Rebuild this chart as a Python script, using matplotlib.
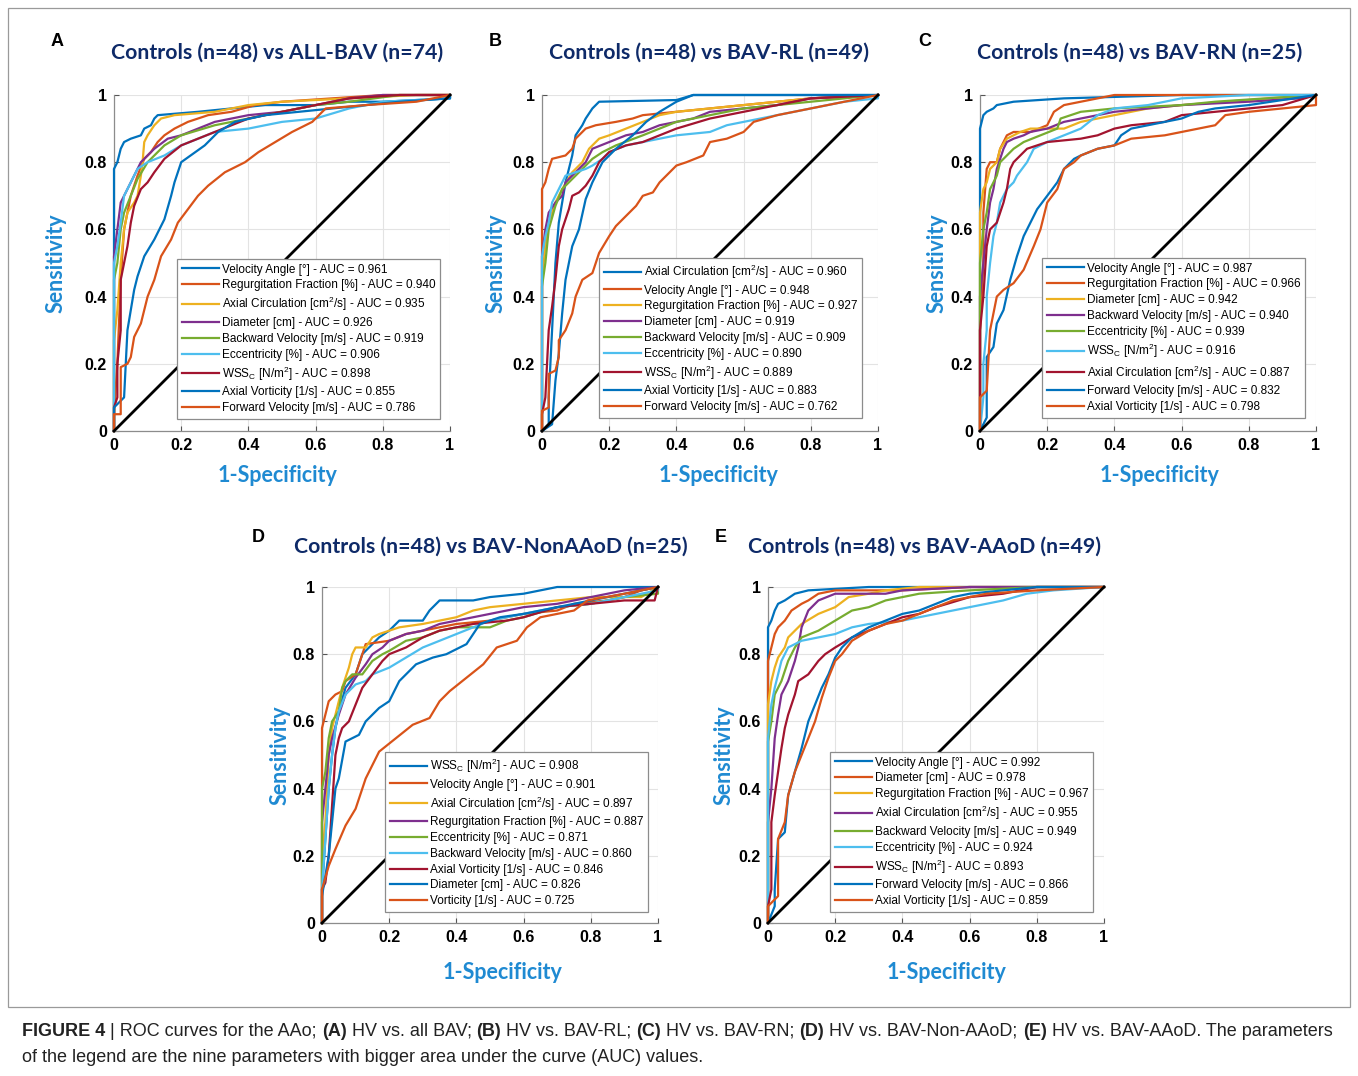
import matplotlib
matplotlib.use("Agg")
import matplotlib.pyplot as plt
from matplotlib.patches import Rectangle
from matplotlib.lines import Line2D

W, H = 1358, 1076
plt.rcParams["font.family"] = ["Liberation Sans", "DejaVu Sans"]
plt.rcParams["mathtext.default"] = "regular"

MATLAB = ["#0072BD", "#D95319", "#EDB120", "#7E2F8E", "#77AC30",
          "#4DBEEE", "#A2142F", "#0072BD", "#D95319"]
NAVY = "#0E2A68"
LBLUE = "#1F8AD2"
TICKS = [0, 0.2, 0.4, 0.6, 0.8, 1]

# ---------------- panel A ----------------
A_TITLE = "Controls (n=48) vs ALL-BAV (n=74)"
A_PARAMS = ["Velocity Angle [°]", "Regurgitation Fraction [%]", "Axial Circulation [cm$^2$/s]",
            "Diameter [cm]", "Backward Velocity [m/s]", "Eccentricity [%]",
            "WSS$_C$ [N/m$^2$]", "Axial Vorticity [1/s]", "Forward Velocity [m/s]"]
A_AUC = [0.961, 0.940, 0.935, 0.926, 0.919, 0.906, 0.898, 0.855, 0.786]
A_ROC = [
    [(0,0),(0,0.06),(0,0.78),(0.01,0.80),(0.02,0.84),(0.03,0.86),(0.05,0.87),(0.08,0.88),(0.09,0.90),(0.11,0.91),(0.12,0.93),(0.13,0.94),(0.25,0.95),(0.35,0.96),(0.45,0.97),(0.6,0.97),(0.7,0.98),(0.8,0.98),(1,0.99),(1,1)],
    [(0,0),(0,0.05),(0.01,0.2),(0.02,0.45),(0.03,0.6),(0.05,0.7),(0.07,0.76),(0.09,0.81),(0.11,0.83),(0.13,0.86),(0.15,0.88),(0.18,0.9),(0.22,0.92),(0.28,0.94),(0.35,0.95),(0.42,0.97),(0.5,0.98),(0.65,0.99),(0.8,1.0),(1,1)],
    [(0,0),(0,0.27),(0.01,0.36),(0.02,0.5),(0.03,0.6),(0.04,0.65),(0.06,0.68),(0.07,0.7),(0.08,0.76),(0.085,0.8),(0.09,0.86),(0.1,0.88),(0.12,0.91),(0.14,0.93),(0.18,0.94),(0.3,0.95),(0.4,0.97),(0.5,0.98),(0.7,0.99),(0.9,1.0),(1,1)],
    [(0,0),(0,0.52),(0.01,0.6),(0.02,0.68),(0.04,0.72),(0.06,0.76),(0.08,0.8),(0.12,0.84),(0.16,0.87),(0.2,0.88),(0.25,0.9),(0.3,0.92),(0.4,0.94),(0.5,0.95),(0.6,0.97),(0.7,0.99),(0.8,1.0),(1,1)],
    [(0,0),(0,0.45),(0.01,0.5),(0.02,0.6),(0.03,0.65),(0.05,0.7),(0.07,0.75),(0.1,0.8),(0.15,0.85),(0.2,0.88),(0.3,0.91),(0.4,0.93),(0.5,0.95),(0.6,0.97),(0.7,0.98),(0.85,1.0),(1,1)],
    [(0,0),(0,0.07),(0,0.5),(0.01,0.55),(0.02,0.62),(0.03,0.7),(0.05,0.74),(0.07,0.78),(0.1,0.8),(0.15,0.82),(0.2,0.85),(0.25,0.87),(0.3,0.89),(0.4,0.9),(0.5,0.92),(0.6,0.93),(0.7,0.96),(0.8,0.98),(1,0.99),(1,1)],
    [(0,0),(0,0.07),(0.01,0.1),(0.01,0.2),(0.02,0.3),(0.02,0.45),(0.03,0.5),(0.04,0.55),(0.05,0.62),(0.06,0.67),(0.08,0.72),(0.1,0.74),(0.12,0.77),(0.15,0.81),(0.2,0.85),(0.25,0.87),(0.3,0.89),(0.4,0.93),(0.5,0.95),(0.6,0.97),(0.7,0.99),(0.85,1.0),(1,1)],
    [(0,0),(0,0.07),(0.03,0.1),(0.04,0.3),(0.05,0.36),(0.06,0.42),(0.07,0.46),(0.09,0.52),(0.12,0.57),(0.15,0.63),(0.17,0.7),(0.18,0.74),(0.2,0.8),(0.27,0.85),(0.31,0.89),(0.36,0.92),(0.45,0.94),(0.55,0.95),(0.65,0.96),(0.75,0.97),(0.85,0.98),(1,0.99),(1,1)],
    [(0,0),(0,0.05),(0.02,0.05),(0.02,0.19),(0.04,0.2),(0.05,0.22),(0.06,0.28),(0.08,0.32),(0.1,0.4),(0.12,0.45),(0.14,0.52),(0.17,0.57),(0.19,0.62),(0.22,0.66),(0.25,0.7),(0.28,0.73),(0.33,0.77),(0.39,0.8),(0.43,0.83),(0.48,0.86),(0.53,0.89),(0.59,0.92),(0.63,0.96),(0.75,0.97),(0.9,0.98),(1,1)],
]

# ---------------- panel B ----------------
B_TITLE = "Controls (n=48) vs BAV-RL (n=49)"
B_PARAMS = ["Axial Circulation [cm$^2$/s]", "Velocity Angle [°]", "Regurgitation Fraction [%]",
            "Diameter [cm]", "Backward Velocity [m/s]", "Eccentricity [%]",
            "WSS$_C$ [N/m$^2$]", "Axial Vorticity [1/s]", "Forward Velocity [m/s]"]
B_AUC = [0.960, 0.948, 0.927, 0.919, 0.909, 0.890, 0.889, 0.883, 0.762]
B_ROC = [
    [(0,0),(0.02,0.02),(0.02,0.1),(0.03,0.3),(0.04,0.5),(0.05,0.62),(0.06,0.68),(0.07,0.74),(0.09,0.82),(0.1,0.88),(0.12,0.91),(0.13,0.93),(0.15,0.96),(0.17,0.98),(0.4,0.985),(0.45,1.0),(1,1)],
    [(0,0),(0,0.72),(0.01,0.74),(0.02,0.78),(0.03,0.81),(0.07,0.82),(0.09,0.84),(0.1,0.87),(0.13,0.9),(0.16,0.91),(0.22,0.92),(0.27,0.93),(0.3,0.94),(0.4,0.95),(0.5,0.96),(0.6,0.97),(0.7,0.98),(0.8,0.99),(1,1)],
    [(0,0),(0,0.45),(0.01,0.55),(0.02,0.62),(0.04,0.68),(0.06,0.72),(0.09,0.77),(0.12,0.8),(0.14,0.84),(0.17,0.87),(0.2,0.88),(0.25,0.9),(0.3,0.92),(0.35,0.94),(0.4,0.95),(0.5,0.96),(0.6,0.97),(0.7,0.98),(0.8,0.99),(1,1)],
    [(0,0),(0,0.52),(0.01,0.6),(0.02,0.65),(0.04,0.68),(0.06,0.7),(0.07,0.74),(0.1,0.77),(0.13,0.8),(0.15,0.84),(0.2,0.86),(0.25,0.88),(0.3,0.89),(0.35,0.91),(0.4,0.92),(0.45,0.93),(0.5,0.95),(0.6,0.96),(0.7,0.97),(0.8,0.99),(1,1)],
    [(0,0),(0,0.43),(0.01,0.5),(0.02,0.6),(0.04,0.67),(0.06,0.72),(0.09,0.75),(0.12,0.78),(0.15,0.81),(0.18,0.83),(0.22,0.85),(0.3,0.88),(0.35,0.9),(0.4,0.92),(0.5,0.94),(0.6,0.96),(0.7,0.97),(0.8,0.98),(0.9,0.99),(1,1)],
    [(0,0),(0,0.1),(0,0.52),(0.01,0.58),(0.02,0.62),(0.03,0.68),(0.05,0.72),(0.07,0.76),(0.1,0.77),(0.13,0.78),(0.15,0.79),(0.18,0.81),(0.2,0.83),(0.25,0.85),(0.3,0.86),(0.4,0.88),(0.5,0.89),(0.55,0.91),(0.6,0.92),(0.7,0.94),(0.8,0.96),(0.9,0.98),(1,0.99),(1,1)],
    [(0,0),(0,0.05),(0.01,0.1),(0.02,0.3),(0.03,0.37),(0.04,0.45),(0.05,0.55),(0.06,0.6),(0.08,0.66),(0.09,0.7),(0.11,0.71),(0.13,0.73),(0.15,0.76),(0.17,0.8),(0.2,0.83),(0.25,0.85),(0.3,0.86),(0.35,0.88),(0.4,0.9),(0.5,0.93),(0.6,0.95),(0.7,0.97),(0.8,0.99),(1,1)],
    [(0,0),(0.03,0.02),(0.04,0.15),(0.05,0.23),(0.06,0.35),(0.07,0.45),(0.09,0.55),(0.11,0.6),(0.13,0.69),(0.15,0.74),(0.18,0.8),(0.22,0.84),(0.27,0.88),(0.31,0.92),(0.35,0.95),(0.4,0.98),(0.45,1.0),(1,1)],
    [(0,0),(0,0.06),(0.02,0.07),(0.02,0.17),(0.04,0.18),(0.05,0.22),(0.05,0.27),(0.07,0.3),(0.09,0.35),(0.1,0.4),(0.12,0.45),(0.15,0.47),(0.17,0.53),(0.2,0.58),(0.22,0.61),(0.25,0.64),(0.28,0.67),(0.3,0.7),(0.33,0.71),(0.35,0.74),(0.38,0.77),(0.4,0.79),(0.43,0.8),(0.48,0.82),(0.5,0.86),(0.55,0.87),(0.6,0.89),(0.63,0.92),(0.7,0.94),(0.8,0.96),(0.9,0.98),(1,1)],
]

# ---------------- panel C ----------------
C_TITLE = "Controls (n=48) vs BAV-RN (n=25)"
C_PARAMS = ["Velocity Angle [°]", "Regurgitation Fraction [%]", "Diameter [cm]",
            "Backward Velocity [m/s]", "Eccentricity [%]", "WSS$_C$ [N/m$^2$]",
            "Axial Circulation [cm$^2$/s]", "Forward Velocity [m/s]", "Axial Vorticity [1/s]"]
C_AUC = [0.987, 0.966, 0.942, 0.940, 0.939, 0.916, 0.887, 0.832, 0.798]
C_ROC = [
    [(0,0),(0,0.9),(0.01,0.94),(0.02,0.95),(0.04,0.96),(0.05,0.97),(0.1,0.98),(0.25,0.99),(0.6,1.0),(1,1)],
    [(0,0),(0,0.3),(0.01,0.5),(0.01,0.65),(0.02,0.78),(0.03,0.8),(0.05,0.8),(0.06,0.84),(0.08,0.88),(0.1,0.89),(0.15,0.89),(0.2,0.91),(0.22,0.95),(0.25,0.97),(0.3,0.98),(0.4,1.0),(1,1)],
    [(0,0),(0,0.5),(0,0.65),(0.01,0.72),(0.02,0.74),(0.03,0.78),(0.05,0.8),(0.06,0.84),(0.08,0.87),(0.1,0.88),(0.12,0.89),(0.15,0.9),(0.25,0.9),(0.3,0.92),(0.35,0.93),(0.4,0.94),(0.5,0.96),(0.6,0.97),(0.73,0.98),(1,1)],
    [(0,0),(0,0.4),(0.01,0.5),(0.02,0.6),(0.03,0.68),(0.04,0.72),(0.05,0.78),(0.07,0.84),(0.08,0.86),(0.1,0.87),(0.13,0.88),(0.15,0.89),(0.2,0.9),(0.25,0.92),(0.3,0.93),(0.4,0.95),(0.5,0.96),(0.6,0.97),(0.8,0.98),(0.95,0.99),(1,1)],
    [(0,0),(0,0.32),(0,0.5),(0.01,0.6),(0.02,0.65),(0.03,0.72),(0.05,0.76),(0.06,0.8),(0.08,0.82),(0.1,0.84),(0.13,0.86),(0.18,0.88),(0.23,0.9),(0.24,0.93),(0.3,0.95),(0.4,0.96),(0.6,0.97),(0.7,0.98),(1,1)],
    [(0,0),(0.01,0.1),(0.01,0.2),(0.02,0.3),(0.02,0.4),(0.03,0.5),(0.04,0.58),(0.05,0.62),(0.06,0.68),(0.08,0.72),(0.1,0.74),(0.11,0.76),(0.14,0.8),(0.16,0.84),(0.2,0.86),(0.25,0.88),(0.3,0.9),(0.35,0.94),(0.4,0.96),(0.5,0.97),(0.6,0.99),(0.8,1.0),(1,1)],
    [(0,0),(0,0.1),(0,0.3),(0.01,0.4),(0.02,0.55),(0.03,0.6),(0.05,0.62),(0.07,0.68),(0.08,0.72),(0.09,0.78),(0.1,0.8),(0.12,0.82),(0.14,0.84),(0.17,0.85),(0.2,0.86),(0.3,0.87),(0.35,0.88),(0.4,0.9),(0.45,0.91),(0.55,0.92),(0.6,0.94),(0.7,0.95),(0.8,0.96),(0.9,0.97),(1,1)],
    [(0,0),(0.02,0.04),(0.02,0.22),(0.04,0.25),(0.05,0.32),(0.07,0.36),(0.09,0.45),(0.11,0.52),(0.13,0.58),(0.15,0.62),(0.17,0.66),(0.2,0.7),(0.23,0.74),(0.25,0.78),(0.28,0.81),(0.3,0.82),(0.35,0.84),(0.4,0.85),(0.42,0.88),(0.45,0.9),(0.5,0.91),(0.55,0.92),(0.6,0.93),(0.65,0.95),(0.7,0.96),(0.8,0.97),(1,1)],
    [(0,0),(0,0.1),(0.02,0.12),(0.03,0.3),(0.04,0.35),(0.05,0.4),(0.07,0.42),(0.1,0.44),(0.13,0.48),(0.16,0.55),(0.18,0.6),(0.2,0.68),(0.23,0.72),(0.25,0.78),(0.28,0.8),(0.3,0.82),(0.35,0.84),(0.4,0.85),(0.45,0.87),(0.55,0.88),(0.65,0.9),(0.7,0.91),(0.73,0.94),(0.8,0.95),(0.9,0.96),(1,0.97),(1,1)],
]

# ---------------- panel D ----------------
D_TITLE = "Controls (n=48) vs BAV-NonAAoD (n=25)"
D_PARAMS = ["WSS$_C$ [N/m$^2$]", "Velocity Angle [°]", "Axial Circulation [cm$^2$/s]",
            "Regurgitation Fraction [%]", "Eccentricity [%]", "Backward Velocity [m/s]",
            "Axial Vorticity [1/s]", "Diameter [cm]", "Vorticity [1/s]"]
D_AUC = [0.908, 0.901, 0.897, 0.887, 0.871, 0.860, 0.846, 0.826, 0.725]
D_ROC = [
    [(0,0),(0,0.1),(0.01,0.25),(0.02,0.4),(0.03,0.5),(0.04,0.58),(0.05,0.63),(0.07,0.7),(0.1,0.74),(0.12,0.8),(0.15,0.83),(0.17,0.85),(0.2,0.87),(0.23,0.9),(0.3,0.9),(0.32,0.93),(0.35,0.96),(0.45,0.96),(0.5,0.97),(0.6,0.98),(0.7,1.0),(1,1)],
    [(0,0),(0,0.4),(0,0.58),(0.01,0.62),(0.02,0.66),(0.04,0.68),(0.06,0.69),(0.07,0.72),(0.1,0.74),(0.12,0.8),(0.13,0.83),(0.2,0.84),(0.25,0.86),(0.3,0.87),(0.4,0.89),(0.5,0.9),(0.6,0.92),(0.7,0.93),(0.75,0.95),(0.85,0.96),(0.9,0.97),(0.95,0.99),(1,1)],
    [(0,0),(0,0.2),(0.01,0.3),(0.02,0.5),(0.03,0.58),(0.04,0.62),(0.06,0.7),(0.08,0.76),(0.09,0.8),(0.1,0.82),(0.13,0.82),(0.15,0.85),(0.17,0.86),(0.2,0.87),(0.23,0.88),(0.3,0.89),(0.35,0.9),(0.4,0.91),(0.45,0.93),(0.5,0.94),(0.6,0.95),(0.7,0.96),(0.8,0.97),(0.95,0.97),(1,1)],
    [(0,0),(0,0.3),(0.01,0.4),(0.02,0.5),(0.03,0.55),(0.05,0.62),(0.07,0.68),(0.1,0.73),(0.13,0.77),(0.15,0.8),(0.18,0.82),(0.2,0.84),(0.25,0.86),(0.3,0.87),(0.35,0.89),(0.4,0.9),(0.45,0.91),(0.5,0.92),(0.55,0.93),(0.6,0.94),(0.7,0.95),(0.8,0.97),(0.9,0.99),(1,1)],
    [(0,0),(0,0.25),(0,0.4),(0.01,0.45),(0.02,0.55),(0.03,0.6),(0.05,0.63),(0.06,0.7),(0.07,0.72),(0.09,0.74),(0.12,0.74),(0.15,0.78),(0.18,0.8),(0.2,0.81),(0.25,0.84),(0.3,0.85),(0.35,0.87),(0.4,0.88),(0.5,0.88),(0.55,0.9),(0.6,0.91),(0.7,0.94),(0.8,0.95),(0.9,0.97),(1,0.98),(1,1)],
    [(0,0),(0,0.1),(0.01,0.25),(0.02,0.4),(0.03,0.5),(0.04,0.58),(0.05,0.63),(0.07,0.68),(0.1,0.71),(0.13,0.72),(0.15,0.74),(0.2,0.76),(0.25,0.79),(0.3,0.82),(0.35,0.84),(0.4,0.86),(0.45,0.88),(0.5,0.9),(0.6,0.92),(0.7,0.94),(0.8,0.95),(0.9,0.97),(1,0.99),(1,1)],
    [(0,0),(0,0.1),(0.01,0.12),(0.02,0.2),(0.03,0.35),(0.04,0.5),(0.05,0.55),(0.06,0.58),(0.08,0.6),(0.1,0.65),(0.12,0.7),(0.15,0.74),(0.18,0.78),(0.2,0.8),(0.25,0.82),(0.3,0.85),(0.35,0.87),(0.4,0.88),(0.45,0.89),(0.55,0.9),(0.6,0.91),(0.7,0.94),(0.8,0.95),(0.9,0.96),(0.99,0.96),(1,1)],
    [(0,0),(0,0.08),(0.02,0.2),(0.03,0.3),(0.04,0.4),(0.05,0.43),(0.07,0.54),(0.11,0.56),(0.13,0.6),(0.17,0.64),(0.2,0.66),(0.23,0.72),(0.28,0.77),(0.33,0.79),(0.37,0.8),(0.43,0.83),(0.47,0.89),(0.53,0.91),(0.6,0.92),(0.7,0.94),(0.8,0.96),(0.9,0.98),(1,1)],
    [(0,0),(0,0.1),(0.02,0.17),(0.04,0.22),(0.07,0.29),(0.1,0.34),(0.13,0.43),(0.17,0.51),(0.22,0.55),(0.27,0.59),(0.32,0.61),(0.35,0.66),(0.38,0.69),(0.43,0.73),(0.48,0.77),(0.52,0.82),(0.58,0.84),(0.61,0.88),(0.65,0.91),(0.75,0.93),(0.79,0.96),(0.9,0.98),(1,1)],
]

# ---------------- panel E ----------------
E_TITLE = "Controls (n=48) vs BAV-AAoD (n=49)"
E_PARAMS = ["Velocity Angle [°]", "Diameter [cm]", "Regurgitation Fraction [%]",
            "Axial Circulation [cm$^2$/s]", "Backward Velocity [m/s]", "Eccentricity [%]",
            "WSS$_C$ [N/m$^2$]", "Forward Velocity [m/s]", "Axial Vorticity [1/s]"]
E_AUC = [0.992, 0.978, 0.967, 0.955, 0.949, 0.924, 0.893, 0.866, 0.859]
E_ROC = [
    [(0,0),(0,0.05),(0,0.88),(0.01,0.9),(0.02,0.93),(0.03,0.95),(0.05,0.96),(0.08,0.98),(0.12,0.99),(0.3,1.0),(1,1)],
    [(0,0),(0,0.05),(0,0.78),(0.01,0.82),(0.02,0.86),(0.03,0.88),(0.05,0.9),(0.07,0.93),(0.1,0.95),(0.12,0.96),(0.15,0.98),(0.2,0.99),(0.4,0.99),(0.6,1.0),(1,1)],
    [(0,0),(0,0.55),(0,0.65),(0.01,0.72),(0.02,0.76),(0.03,0.79),(0.05,0.82),(0.06,0.85),(0.08,0.87),(0.1,0.89),(0.15,0.92),(0.2,0.94),(0.24,0.97),(0.3,0.98),(0.35,0.99),(0.45,1.0),(1,1)],
    [(0,0),(0,0.3),(0.01,0.4),(0.02,0.55),(0.03,0.62),(0.04,0.68),(0.06,0.72),(0.08,0.78),(0.09,0.82),(0.1,0.88),(0.12,0.93),(0.15,0.96),(0.2,0.98),(0.35,0.98),(0.4,0.99),(0.6,1.0),(1,1)],
    [(0,0),(0,0.54),(0.01,0.6),(0.02,0.68),(0.04,0.72),(0.06,0.78),(0.08,0.82),(0.1,0.85),(0.15,0.87),(0.2,0.9),(0.25,0.93),(0.3,0.94),(0.35,0.96),(0.45,0.98),(0.6,0.99),(0.8,1.0),(1,1)],
    [(0,0),(0,0.1),(0,0.55),(0.01,0.65),(0.02,0.7),(0.04,0.78),(0.06,0.82),(0.1,0.84),(0.15,0.85),(0.2,0.86),(0.25,0.88),(0.3,0.89),(0.4,0.9),(0.5,0.92),(0.6,0.94),(0.7,0.96),(0.77,0.98),(0.85,0.99),(1,1)],
    [(0,0),(0,0.05),(0.01,0.1),(0.01,0.3),(0.02,0.38),(0.03,0.45),(0.04,0.52),(0.05,0.58),(0.06,0.62),(0.08,0.68),(0.09,0.72),(0.12,0.74),(0.15,0.78),(0.17,0.8),(0.2,0.82),(0.25,0.85),(0.3,0.87),(0.35,0.89),(0.4,0.91),(0.45,0.92),(0.5,0.94),(0.6,0.97),(0.7,0.98),(0.8,1.0),(1,1)],
    [(0,0),(0.02,0.05),(0.02,0.1),(0.03,0.25),(0.05,0.27),(0.06,0.38),(0.08,0.45),(0.1,0.52),(0.12,0.6),(0.14,0.65),(0.16,0.7),(0.18,0.74),(0.2,0.79),(0.22,0.82),(0.25,0.85),(0.3,0.88),(0.35,0.9),(0.4,0.92),(0.45,0.93),(0.5,0.95),(0.55,0.97),(0.6,0.98),(0.7,0.99),(0.8,1.0),(1,1)],
    [(0,0),(0,0.05),(0.03,0.08),(0.03,0.25),(0.05,0.3),(0.06,0.38),(0.08,0.45),(0.1,0.5),(0.12,0.55),(0.14,0.6),(0.16,0.67),(0.18,0.73),(0.2,0.78),(0.22,0.8),(0.25,0.84),(0.3,0.87),(0.35,0.89),(0.4,0.9),(0.45,0.92),(0.5,0.94),(0.55,0.96),(0.6,0.97),(0.65,0.98),(0.8,0.99),(1,1)],
]

CAPTION_1 = [("FIGURE 4", "bold"), ("| ROC curves for the AAo;", "normal"), ("(A)", "bold"),
             ("HV vs. all BAV;", "normal"), ("(B)", "bold"), ("HV vs. BAV-RL;", "normal"),
             ("(C)", "bold"), ("HV vs. BAV-RN;", "normal"), ("(D)", "bold"),
             ("HV vs. BAV-Non-AAoD;", "normal"), ("(E)", "bold"),
             ("HV vs. BAV-AAoD. The parameters", "normal")]
CAPTION_2 = [("of the legend are the nine parameters with bigger area under the curve (AUC) values.", "normal")]

# layout (pixels unless noted): axes x0/top, title centre x/y, letter x/y,
# y-label and x-label coords (axes fraction), legend anchor (axes fraction)
PANELS = [
    dict(letter="A", title=A_TITLE, params=A_PARAMS, auc=A_AUC, roc=A_ROC, x0=114, top=95,
         tc=(277, 53), lc=(57, 42), ylab=-0.140, xlab=(0.488, -0.100), leg=(0.970, 0.036)),
    dict(letter="B", title=B_TITLE, params=B_PARAMS, auc=B_AUC, roc=B_ROC, x0=542, top=95,
         tc=(709, 53), lc=(495, 42), ylab=-0.107, xlab=(0.524, -0.100), leg=(0.952, 0.039)),
    dict(letter="C", title=C_TITLE, params=C_PARAMS, auc=C_AUC, roc=C_ROC, x0=980, top=95,
         tc=(1140, 53), lc=(925, 42), ylab=-0.098, xlab=(0.533, -0.100), leg=(0.967, 0.039)),
    dict(letter="D", title=D_TITLE, params=D_PARAMS, auc=D_AUC, roc=D_ROC, x0=322, top=587,
         tc=(491, 547), lc=(258, 537), ylab=-0.095, xlab=(0.536, -0.116), leg=(0.970, 0.033)),
    dict(letter="E", title=E_TITLE, params=E_PARAMS, auc=E_AUC, roc=E_ROC, x0=768, top=587,
         tc=(925, 547), lc=(721, 537), ylab=-0.101, xlab=(0.530, -0.116), leg=(0.967, 0.033)),
]
SIDE = 336

fig = plt.figure(figsize=(W / 100, H / 100), dpi=100)
fig.patch.set_facecolor("white")
fig.add_artist(Rectangle((8 / W, 1 - 1007 / H), 1342 / W, 999 / H, transform=fig.transFigure,
                         fill=False, edgecolor="#9A9A9A", lw=0.9))

for p in PANELS:
    ax = fig.add_axes([p["x0"] / W, 1 - (p["top"] + SIDE) / H, SIDE / W, SIDE / H])
    handles = []
    for i, pts in enumerate(p["roc"]):
        fpr = [q[0] for q in pts]
        tpr = [q[1] for q in pts]
        ax.plot(fpr, tpr, color=MATLAB[i], lw=1.6, clip_on=False, zorder=3)
        handles.append(Line2D([], [], color=MATLAB[i], lw=1.6))
    ax.plot([0, 1], [0, 1], color="black", lw=2.0, zorder=4, clip_on=False)

    ax.set_xlim(0, 1)
    ax.set_ylim(0, 1)
    ax.set_xticks(TICKS, labels=[f"{t:g}" for t in TICKS], fontweight="bold", fontsize=11.5)
    ax.set_yticks(TICKS, labels=[f"{t:g}" for t in TICKS], fontweight="bold", fontsize=11.5)
    ax.tick_params(direction="in", length=3.5, width=0.8, color="#555555", pad=5)
    ax.grid(True, color="#E3E3E3", lw=0.8)
    ax.set_axisbelow(True)
    for s in ("top", "right"):
        ax.spines[s].set_visible(False)
    for s in ("left", "bottom"):
        ax.spines[s].set_color("#8C8C8C")
        ax.spines[s].set_linewidth(0.9)

    ax.set_xlabel("1-Specificity", family="Lato", fontweight="bold", fontsize=15.5, color=LBLUE)
    ax.set_ylabel("Sensitivity", family="Lato", fontweight="bold", fontsize=15.5, color=LBLUE)
    ax.xaxis.set_label_coords(*p["xlab"])
    ax.yaxis.set_label_coords(p["ylab"], 0.5)

    labels = [f"{n} - AUC = {a:.3f}" for n, a in zip(p["params"], p["auc"])]
    leg = ax.legend(handles, labels, loc="lower right", bbox_to_anchor=p["leg"],
                    borderaxespad=0, fontsize=8.5, handlelength=3.1, handletextpad=0.25,
                    labelspacing=0.32, borderpad=0.4, fancybox=False, framealpha=1,
                    edgecolor="#8C8C8C")
    leg.get_frame().set_linewidth(0.9)
    leg.set_zorder(5)

    fig.text(p["tc"][0] / W, 1 - p["tc"][1] / H, p["title"], family="Lato", fontweight="bold",
             fontsize=15.3, color=NAVY, ha="center", va="center")
    fig.text(p["lc"][0] / W, 1 - p["lc"][1] / H, p["letter"], fontweight="bold", fontsize=13,
             ha="center", va="center")

# caption with mixed bold / regular runs
renderer = fig.canvas.get_renderer()
cap_size = 12.95


def rich_line(pieces, x_px, y_px):
    probe = fig.text(0, 0, "a a", fontsize=cap_size)
    probe2 = fig.text(0, 0, "aa", fontsize=cap_size)
    space = probe.get_window_extent(renderer).width - probe2.get_window_extent(renderer).width
    probe.remove()
    probe2.remove()
    x = x_px
    for txt, weight in pieces:
        t = fig.text(x / W, 1 - y_px / H, txt, fontsize=cap_size, fontweight=weight,
                     color="#222222", ha="left", va="baseline")
        x += t.get_window_extent(renderer).width + space


rich_line(CAPTION_1, 22, 1036)
rich_line(CAPTION_2, 22, 1062)

fig.savefig("out.png", dpi=100, facecolor="white")
